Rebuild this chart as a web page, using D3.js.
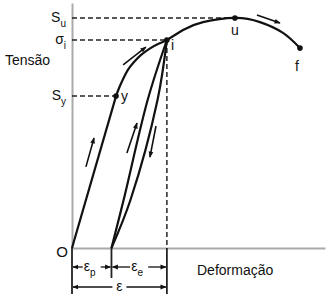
<!DOCTYPE html>
<html><head><meta charset="utf-8">
<script src="https://cdn.jsdelivr.net/npm/d3@7"></script>
<style>
html,body{margin:0;padding:0;background:#fff;}
text{font-family:"Liberation Sans",Arial,sans-serif;fill:#111;}
</style></head>
<body>
<svg id="c" width="329" height="299"></svg>
<script>
// ---- data (strain %, stress %) ----
const elastic = [[0,0],[17.4,62.0]];
const plasticCurve = [[17.4,62.0],[18.6,65.3],[20.2,69.0],[22.1,72.7],[24.5,75.9],[27.3,78.8],[30.4,81.2],[34.0,83.3],[37.5,84.9],[43.9,89.0],[51.8,92.2],[64.4,93.9],[74.3,92.2],[83.4,87.8],[90.1,81.6]];
const unloadLine = [[15.6,0],[20.4,19.6],[29.9,60.4],[37.5,84.9]];
const reloadLine = [[15.6,0],[23.1,19.6],[33.8,60.4],[37.5,84.9]];
const keyPoints = [{name:"y",x:17.4,y:62.0},{name:"i",x:37.5,y:84.9},{name:"u",x:64.4,y:93.9},{name:"f",x:90.1,y:81.6}];
const stressLabels = [{main:"S",sub:"u",x:64.4,y:93.9},{main:"σ",sub:"i",x:37.5,y:84.9},{main:"S",sub:"y",x:17.4,y:62.0}];
const strainMarks = [{x:0,len:46},{x:15.6,len:30},{x:37.5,len:46}];
const dimensions = [{from:0,to:15.6,main:"ε",sub:"p",row:0},{from:15.6,to:37.5,main:"ε",sub:"e",row:0},{from:0,to:37.5,main:"ε",sub:"",row:1}];
const flowArrows = [[[5.5,33.1],[8.7,44.9]],[[21.7,38.8],[25.7,51.0]],[[33.2,49.8],[30.8,37.1]],[[20.2,74.7],[29.2,82.0]],[[73.1,95.1],[82.2,91.8]]];
const axisTitles = {y:"Tensão", x:"Deformação", origin:"O"};

const svg = d3.select("#c");
const x = d3.scaleLinear().domain([0,100]).range([72,325]);
const y = d3.scaleLinear().domain([0,100]).range([248,3]);

const defs = svg.append("defs");
defs.append("marker").attr("id","ah").attr("viewBox","0 0 10 10").attr("refX",9).attr("refY",5)
  .attr("markerWidth",6).attr("markerHeight",6).attr("markerUnits","userSpaceOnUse").attr("orient","auto")
  .append("path").attr("d","M0,1 L10,5 L0,9 Z").attr("fill","#111");
defs.append("marker").attr("id","ah2").attr("viewBox","0 0 10 10").attr("refX",9).attr("refY",5)
  .attr("markerWidth",7).attr("markerHeight",6).attr("markerUnits","userSpaceOnUse").attr("orient","auto")
  .append("path").attr("d","M0,1 L10,5 L0,9 Z").attr("fill","#111");

// axes
const gx = svg.append("g").attr("transform",`translate(0,${y(0)})`).call(d3.axisBottom(x).ticks(0).tickSizeOuter(0));
const gy = svg.append("g").attr("transform",`translate(${x(0)},0)`).call(d3.axisLeft(y).ticks(0).tickSizeOuter(0));
[gx,gy].forEach(g=>g.select(".domain").attr("stroke","#aaa").attr("stroke-width",2));

// dashed guides
stressLabels.forEach(d=>{
  svg.append("line").attr("x1",x(0)).attr("x2",x(d.x)).attr("y1",y(d.y)).attr("y2",y(d.y))
    .attr("stroke","#222").attr("stroke-width",1.5).attr("stroke-dasharray","5,3");
});
svg.append("line").attr("x1",x(37.5)).attr("x2",x(37.5)).attr("y1",y(84.9)).attr("y2",y(0))
  .attr("stroke","#333").attr("stroke-width",1.6).attr("stroke-dasharray","5,3");

// curves
const line = d3.line().x(d=>x(d[0])).y(d=>y(d[1]));
const smooth = d3.line().x(d=>x(d[0])).y(d=>y(d[1])).curve(d3.curveCatmullRom);
const natural = d3.line().x(d=>x(d[0])).y(d=>y(d[1])).curve(d3.curveNatural);
svg.append("path").attr("d",line(elastic)).attr("fill","none").attr("stroke","#111").attr("stroke-width",2.2);
svg.append("path").attr("d",natural(plasticCurve)).attr("fill","none").attr("stroke","#111").attr("stroke-width",2.2);
svg.append("path").attr("d",smooth(unloadLine)).attr("fill","none").attr("stroke","#111").attr("stroke-width",2.2);
svg.append("path").attr("d",smooth(reloadLine)).attr("fill","none").attr("stroke","#111").attr("stroke-width",2.2);

// flow arrows
flowArrows.forEach(a=>{
  svg.append("line").attr("x1",x(a[0][0])).attr("y1",y(a[0][1])).attr("x2",x(a[1][0])).attr("y2",y(a[1][1]))
    .attr("stroke","#111").attr("stroke-width",1.6).attr("marker-end","url(#ah2)");
});

// points
svg.selectAll("circle.kp").data(keyPoints).join("circle").attr("class","kp")
  .attr("cx",d=>x(d.x)).attr("cy",d=>y(d.y)).attr("r",2.8).attr("fill","#111");

const fs = 14;
// point labels
const lblOff = {y:[5,5,"start"],i:[4,10,"start"],u:[0,17,"middle"],f:[-3,23,"middle"]};
keyPoints.forEach(d=>{
  const o = lblOff[d.name];
  svg.append("text").attr("x",x(d.x)+o[0]).attr("y",y(d.y)+o[1]).attr("text-anchor",o[2])
    .attr("font-size",fs).text(d.name);
});

// stress labels
stressLabels.forEach(d=>{
  const t = svg.append("text").attr("x",x(0)-6).attr("y",y(d.y)+4).attr("text-anchor","end").attr("font-size",fs);
  t.append("tspan").text(d.main);
  t.append("tspan").attr("font-size",10).attr("dy",5).text(d.sub);
});

// axis titles
svg.append("text").attr("x",5).attr("y",65).attr("font-size",fs).text(axisTitles.y);
svg.append("text").attr("x",197).attr("y",275).attr("font-size",fs).text(axisTitles.x);
svg.append("text").attr("x",62).attr("y",257).attr("text-anchor","middle").attr("font-size",15).text(axisTitles.origin);

// strain marks below axis
strainMarks.forEach(d=>{
  svg.append("line").attr("x1",x(d.x)).attr("x2",x(d.x)).attr("y1",y(0)).attr("y2",y(0)+d.len)
    .attr("stroke","#222").attr("stroke-width",1.8);
});

// dimension arrows
const rows = [267,287];
dimensions.forEach(d=>{
  const x0 = x(d.from), x1 = x(d.to), cy = rows[d.row];
  const mid = (x0+x1)/2, half = d.sub ? 9 : 7;
  svg.append("line").attr("x1",mid-half).attr("x2",x0+1).attr("y1",cy).attr("y2",cy)
    .attr("stroke","#111").attr("stroke-width",1.3).attr("marker-end","url(#ah)");
  svg.append("line").attr("x1",mid+half).attr("x2",x1-1).attr("y1",cy).attr("y2",cy)
    .attr("stroke","#111").attr("stroke-width",1.3).attr("marker-end","url(#ah)");
  const t = svg.append("text").attr("x",mid - (d.sub?2:0)).attr("y",cy+4).attr("text-anchor","middle").attr("font-size",fs);
  t.append("tspan").text(d.main);
  if(d.sub) t.append("tspan").attr("font-size",10).attr("dy",5).text(d.sub);
});
</script>
</body></html>
